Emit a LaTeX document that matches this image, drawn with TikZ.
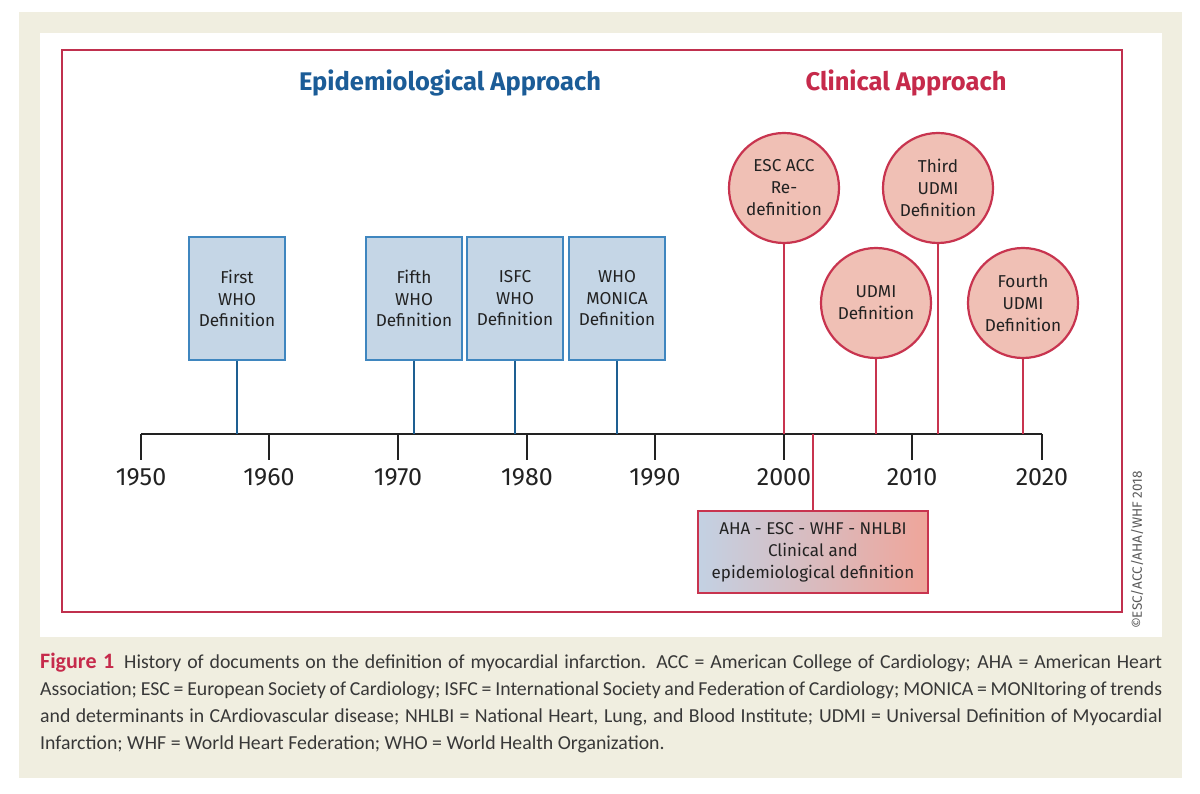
\documentclass[tikz,border=0pt]{standalone}
\usepackage{fontspec}
\setmainfont{Fira Sans}
\newfontfamily\capfont{Carlito}
\usetikzlibrary{positioning}
\definecolor{beige}{HTML}{F0EEE0}
\definecolor{frame}{HTML}{C0304E}
\definecolor{epiblue}{HTML}{1B5C97}
\definecolor{clinred}{HTML}{C62A4B}
\definecolor{boxfill}{HTML}{C5D6E6}
\definecolor{boxline}{HTML}{3F86BF}
\definecolor{stemblue}{HTML}{1E5F92}
\definecolor{circfill}{HTML}{F0C0B5}
\definecolor{circline}{HTML}{C8344F}
\definecolor{ink}{HTML}{222222}
\definecolor{ahaleft}{HTML}{C3D1E3}
\definecolor{aharight}{HTML}{EFA59A}
\tikzset{
  epibox/.style={draw=boxline, fill=boxfill, line width=2pt, minimum width=96pt, minimum height=123pt,
    inner sep=0pt, align=center, text=ink, font=\fontsize{17.2}{21.5}\selectfont},
  clincirc/.style={circle, draw=circline, fill=circfill, line width=2.2pt, minimum size=110pt,
    inner sep=0pt, align=center, text=ink, font=\fontsize{17.2}{22}\selectfont},
  bluestem/.style={draw=stemblue, line width=2pt},
  redstem/.style={draw=circline, line width=2pt},
  axisline/.style={draw=ink, line width=2pt},
  yearlbl/.style={text=ink, font=\fontsize{25}{27}\selectfont, inner sep=0pt},
  ttl/.style={font=\bfseries\fontsize{25.5}{27}\selectfont, inner sep=0pt},
}
\begin{document}
\begin{tikzpicture}[x=1pt,y=-1pt]
\useasboundingbox (0,0) rectangle (1200,794);
\fill[white] (0,0) rectangle (1200,794);
\fill[beige] (19,12) rectangle (1182,778);
\fill[white] (40,33) rectangle (1162,637);
\draw[frame, line width=2.5pt] (62,50) rectangle (1122,612);

% titles
\node[ttl, text=epiblue] (epititle) at (450,83) {Epidemiological Approach};
\node[ttl, text=clinred] (clintitle) at (906,83) {Clinical Approach};

% axis
\coordinate (y1950) at (141,434);
\coordinate (y2020) at (1042,434);
\draw[axisline] (y1950) -- (y2020);
\foreach \yr/\xx in {1950/141,1960/269,1970/398,1980/527,1990/655,2000/784,2010/912,2020/1042}{
  \coordinate (t\yr) at (\xx,434);
  \draw[axisline] (t\yr) -- ++(0,26) coordinate (tb\yr);
  \node[yearlbl] (l\yr) at (\xx,477) {\yr};
}

% epidemiological boxes
\node[epibox] (first) at (237,298.5) {First\\WHO\\Definition};
\node[epibox] (fifth) at (414,298.5) {Fifth\\WHO\\Definition};
\node[epibox] (isfc) at (515,298.5) {ISFC\\WHO\\Definition};
\node[epibox] (monica) at (617,298.5) {WHO\\MONICA\\Definition};
\foreach \n in {first,fifth,isfc,monica}{
  \draw[bluestem] (\n.south) -- (\n.south |- y1950);
}

% clinical circles
\node[clincirc] (escacc) at (784,188) {ESC ACC\\Re-\\definition};
\node[clincirc] (third) at (938,188) {Third\\UDMI\\Definition};
\node[clincirc] (udmi) at (876,303) {UDMI\\Definition};
\node[clincirc] (fourth) at (1023,303) {Fourth\\UDMI\\Definition};
\foreach \n in {escacc,third,udmi,fourth}{
  \draw[redstem] (\n.south) -- (\n.south |- y1950);
}

% AHA box
\node[draw=circline, line width=2pt, left color=ahaleft, right color=aharight,
  minimum width=230pt, minimum height=82pt, inner sep=0pt, align=center, text=ink,
  font=\fontsize{17}{22}\selectfont] (aha) at (813,552)
  {AHA - ESC - WHF - NHLBI\\Clinical and\\epidemiological definition};
\draw[redstem] (aha.north) -- (aha.north |- y1950);

% copyright
\node[rotate=90, text=ink!75, font=\fontsize{13.5}{14}\selectfont, inner sep=0pt] (copy) at (1137,550) {©ESC/ACC/AHA/WHF 2018};

% caption
\node[anchor=north west, inner sep=0pt, text=ink!90] (caption) at (40,653) {%
  \parbox{1122pt}{\capfont\fontsize{19.8}{27}\selectfont
  {\bfseries\fontsize{22}{27}\selectfont\color{clinred}Figure 1}\enspace History of documents on the definition of myocardial infarction. ACC = American College of Cardiology; AHA = American Heart\linebreak
  Association; ESC = European Society of Cardiology; ISFC = International Society and Federation of Cardiology; MONICA = MONItoring of trends\linebreak
  and determinants in CArdiovascular disease; NHLBI = National Heart, Lung, and Blood Institute; UDMI = Universal Definition of Myocardial\linebreak
  Infarction; WHF = World Heart Federation; WHO = World Health Organization.}};
\end{tikzpicture}
\end{document}
